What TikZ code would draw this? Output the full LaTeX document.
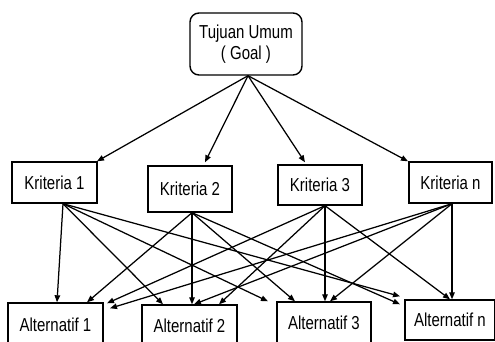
\documentclass[tikz,border=0pt]{standalone}
\usepackage{fontspec}
\setmainfont{Liberation Sans}
\usetikzlibrary{arrows.meta}
\begin{document}
\begin{tikzpicture}[x=1pt,y=-1pt,every node/.style={font=\fontsize{15}{21}\selectfont},
  box/.style={draw,line width=1.4pt,inner sep=0pt},
  arr/.style={line width=1.25pt,-{Triangle[length=7pt,width=5.5pt]}}]
\useasboundingbox (0,0) rectangle (495,342);
% AHP hierarchy: goal, criteria, alternatives
\node[box,rounded corners=9pt,minimum width=112,minimum height=62,align=center] (goal) at (246,44) {\scalebox{1}[1.25]{Tujuan Umum}\\\scalebox{1}[1.25]{( Goal )}};
\foreach \n/\t/\x/\y/\w/\h in {k1/Kriteria 1/54.5/182.5/85/41,k2/Kriteria 2/190/189/84/46,k3/Kriteria 3/320/185/84/40,kn/Kriteria n/450.5/182.5/83/41,
  a1/Alternatif 1/55.5/325/95/44,a2/Alternatif 2/189.5/326/95/42,a3/Alternatif 3/324/323/94/42,an/Alternatif n/450/320/90/40}
  {\node[box,minimum width=\w,minimum height=\h] (\n) at (\x,\y) {\scalebox{1}[1.25]{\t}};}
\foreach \t/\tx/\ty in {k1/42.5/0,k2/15/3,k3/-15/2,kn/-42.5/0}
  {\draw[arr] ([xshift=2]goal.south) -- ([xshift=\tx,yshift=\ty]\t.north);}
\foreach \s/\sx/\t/\tx/\ty in {k1/8.5/a1/1.5/0,k1/8.5/a2/-26.5/0,k1/8.5/a3/-56/0,k1/8.5/an/-50/3,
  k2/2/a1/31.5/0,k2/2/a2/2.5/0,k2/2/a3/-29/0,k2/2/an/-50/-5,
  k3/5/a1/51.5/-1,k3/5/a2/29.5/0,k3/5/a3/1/0,k3/5/an/0/0,
  kn/1.5/a1/54.5/-6,kn/1.5/a2/4.5/0,kn/1.5/a3/6/0,kn/1.5/an/2/0}
  {\draw[arr] ([xshift=\sx]\s.south) -- ([xshift=\tx,yshift=\ty]\t.north);}
\end{tikzpicture}
\end{document}
